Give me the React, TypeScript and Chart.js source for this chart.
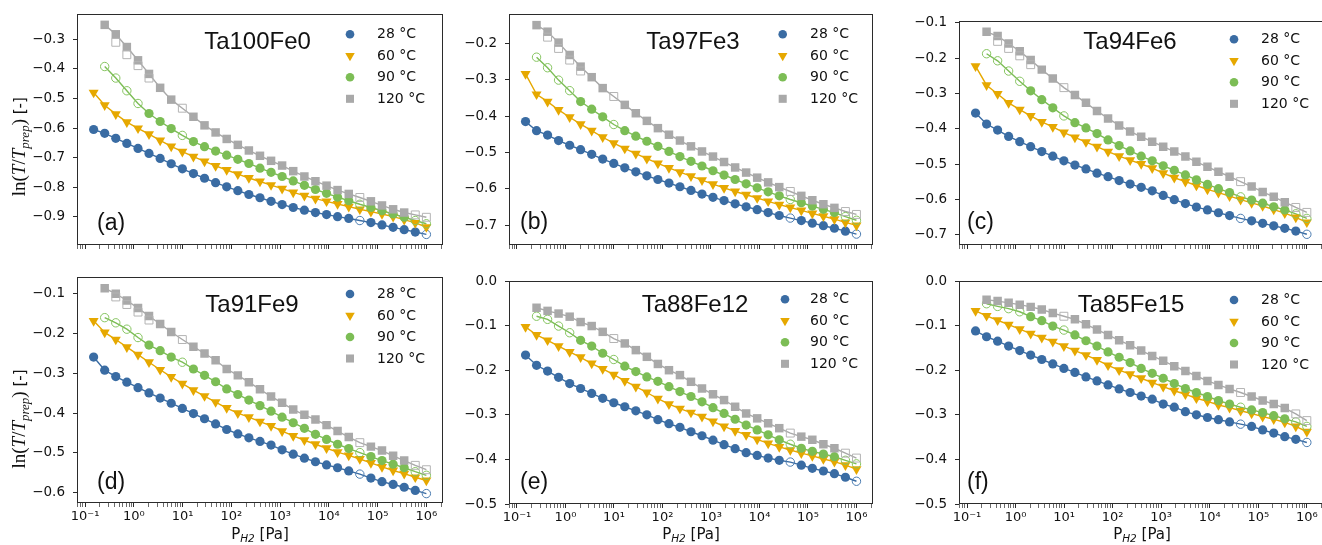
import React, { useEffect, useRef } from 'react';
import { Chart, registerables } from 'chart.js';
import { drawPoint } from 'chart.js/helpers';

Chart.register(...registerables);

// ---------------- data ----------------
const PRESSURE_PA = [0.15, 0.253, 0.427, 0.72, 1.22, 2.05, 3.47, 5.85, 9.9, 16.7, 28.2, 47.6, 80.4, 136, 229, 387, 653, 1100, 1860, 3150, 5310, 8970, 15100, 25600, 43200, 72900, 123000, 208000, 351000, 592000, 1000000];
const TEMP_LABELS = ['28 °C', '60 °C', '90 °C', '120 °C'];
const X_MAJOR_VALUES = [0.1, 1, 10, 100, 1000, 10000, 100000, 1000000];
const X_MAJOR_LABELS = ['10⁻¹', '10⁰', '10¹', '10²', '10³', '10⁴', '10⁵', '10⁶'];
const HOLLOW_INDEX = [[24, 30], [], [1, 2, 3, 4, 8, 24, 29, 30], [8, 24, 29, 30]];
const DUP_120_INDEX = [2, 3, 4, 5];

const A28 = [-0.605, -0.618, -0.635, -0.652, -0.669, -0.686, -0.703, -0.721, -0.738, -0.754, -0.770, -0.785, -0.799, -0.812, -0.825, -0.836, -0.848, -0.859, -0.869, -0.878, -0.886, -0.893, -0.900, -0.906, -0.913, -0.920, -0.928, -0.936, -0.944, -0.952, -0.960];
const A60 = [-0.480, -0.523, -0.553, -0.580, -0.601, -0.621, -0.642, -0.662, -0.680, -0.697, -0.713, -0.728, -0.742, -0.756, -0.769, -0.781, -0.793, -0.805, -0.818, -0.829, -0.839, -0.848, -0.857, -0.866, -0.875, -0.883, -0.891, -0.900, -0.910, -0.921, -0.935];
const A90 = [null, -0.392, -0.431, -0.474, -0.517, -0.551, -0.578, -0.602, -0.625, -0.646, -0.663, -0.678, -0.692, -0.706, -0.720, -0.736, -0.750, -0.764, -0.779, -0.794, -0.808, -0.821, -0.834, -0.846, -0.858, -0.869, -0.880, -0.891, -0.902, -0.913, -0.924];
const A120 = [null, -0.251, -0.283, -0.326, -0.371, -0.417, -0.464, -0.504, -0.533, -0.562, -0.591, -0.615, -0.637, -0.657, -0.676, -0.694, -0.711, -0.727, -0.746, -0.764, -0.780, -0.795, -0.810, -0.823, -0.835, -0.848, -0.862, -0.875, -0.886, -0.894, -0.902];
const A120_DUP = [-0.310, -0.352, -0.389, -0.431];

const B28 = [-0.415, -0.440, -0.452, -0.467, -0.480, -0.492, -0.505, -0.518, -0.530, -0.542, -0.553, -0.564, -0.574, -0.584, -0.594, -0.604, -0.614, -0.623, -0.632, -0.641, -0.649, -0.657, -0.665, -0.673, -0.680, -0.687, -0.694, -0.701, -0.708, -0.716, -0.724];
const B60 = [-0.284, -0.340, -0.360, -0.383, -0.403, -0.422, -0.440, -0.458, -0.474, -0.489, -0.503, -0.517, -0.530, -0.542, -0.554, -0.565, -0.576, -0.587, -0.597, -0.607, -0.616, -0.625, -0.634, -0.643, -0.651, -0.659, -0.667, -0.675, -0.683, -0.692, -0.700];
const B90 = [null, -0.238, -0.267, -0.301, -0.330, -0.360, -0.381, -0.402, -0.423, -0.440, -0.455, -0.469, -0.483, -0.497, -0.511, -0.524, -0.537, -0.550, -0.562, -0.574, -0.586, -0.597, -0.608, -0.619, -0.629, -0.638, -0.647, -0.656, -0.665, -0.676, -0.686];
const B120 = [null, -0.150, -0.168, -0.198, -0.232, -0.264, -0.293, -0.323, -0.346, -0.369, -0.392, -0.413, -0.433, -0.451, -0.467, -0.483, -0.497, -0.511, -0.526, -0.541, -0.555, -0.569, -0.582, -0.595, -0.607, -0.619, -0.631, -0.642, -0.652, -0.662, -0.670];
const B120_DUP = [-0.183, -0.214, -0.246, -0.276];

const C28 = [-0.355, -0.386, -0.403, -0.421, -0.436, -0.450, -0.464, -0.477, -0.490, -0.502, -0.513, -0.525, -0.535, -0.546, -0.556, -0.565, -0.575, -0.588, -0.600, -0.611, -0.621, -0.629, -0.637, -0.645, -0.653, -0.660, -0.667, -0.674, -0.681, -0.689, -0.698];
const C60 = [-0.222, -0.276, -0.301, -0.326, -0.345, -0.363, -0.380, -0.394, -0.410, -0.424, -0.437, -0.450, -0.464, -0.477, -0.488, -0.499, -0.511, -0.525, -0.538, -0.549, -0.560, -0.571, -0.580, -0.590, -0.600, -0.609, -0.618, -0.628, -0.638, -0.650, -0.664];
const C90 = [null, -0.187, -0.207, -0.236, -0.265, -0.292, -0.317, -0.340, -0.363, -0.382, -0.397, -0.413, -0.431, -0.447, -0.462, -0.477, -0.490, -0.504, -0.517, -0.530, -0.544, -0.557, -0.569, -0.580, -0.592, -0.601, -0.610, -0.620, -0.629, -0.640, -0.653];
const C120 = [null, -0.125, -0.137, -0.158, -0.180, -0.205, -0.232, -0.257, -0.283, -0.304, -0.326, -0.349, -0.370, -0.390, -0.407, -0.422, -0.436, -0.450, -0.464, -0.478, -0.493, -0.507, -0.521, -0.535, -0.549, -0.563, -0.578, -0.592, -0.607, -0.622, -0.636];
const C120_DUP = [-0.152, -0.172, -0.193, -0.218];

const D28 = [-0.259, -0.292, -0.308, -0.322, -0.336, -0.349, -0.362, -0.375, -0.388, -0.401, -0.414, -0.427, -0.441, -0.452, -0.462, -0.471, -0.480, -0.492, -0.503, -0.513, -0.522, -0.530, -0.537, -0.545, -0.553, -0.563, -0.572, -0.579, -0.586, -0.594, -0.602];
const D60 = [-0.168, -0.197, -0.215, -0.234, -0.253, -0.272, -0.291, -0.309, -0.326, -0.342, -0.357, -0.372, -0.387, -0.400, -0.410, -0.421, -0.432, -0.445, -0.457, -0.468, -0.478, -0.488, -0.498, -0.506, -0.515, -0.525, -0.535, -0.544, -0.552, -0.561, -0.569];
const D90 = [null, -0.160, -0.173, -0.189, -0.210, -0.229, -0.243, -0.259, -0.272, -0.289, -0.305, -0.321, -0.339, -0.353, -0.367, -0.381, -0.395, -0.410, -0.424, -0.438, -0.453, -0.466, -0.478, -0.489, -0.499, -0.509, -0.519, -0.528, -0.537, -0.547, -0.556];
const D120 = [null, -0.086, -0.100, -0.117, -0.136, -0.156, -0.176, -0.196, -0.215, -0.233, -0.250, -0.267, -0.289, -0.305, -0.322, -0.340, -0.358, -0.374, -0.391, -0.404, -0.416, -0.430, -0.445, -0.460, -0.474, -0.484, -0.494, -0.507, -0.519, -0.531, -0.542];
const D120_DUP = [-0.108, -0.127, -0.146, -0.166];

const E28 = [-0.166, -0.189, -0.202, -0.216, -0.230, -0.241, -0.252, -0.263, -0.273, -0.282, -0.291, -0.300, -0.311, -0.320, -0.328, -0.338, -0.347, -0.357, -0.367, -0.376, -0.385, -0.391, -0.397, -0.402, -0.406, -0.413, -0.420, -0.426, -0.432, -0.440, -0.449];
const E60 = [-0.103, -0.121, -0.133, -0.146, -0.159, -0.171, -0.185, -0.197, -0.210, -0.224, -0.237, -0.250, -0.264, -0.276, -0.286, -0.295, -0.304, -0.315, -0.326, -0.336, -0.345, -0.355, -0.364, -0.372, -0.379, -0.386, -0.392, -0.399, -0.405, -0.413, -0.422];
const E90 = [null, -0.079, -0.086, -0.101, -0.116, -0.133, -0.146, -0.162, -0.176, -0.191, -0.203, -0.215, -0.225, -0.237, -0.248, -0.259, -0.271, -0.284, -0.297, -0.310, -0.323, -0.334, -0.345, -0.356, -0.366, -0.375, -0.382, -0.388, -0.394, -0.402, -0.410];
const E120 = [null, -0.060, -0.067, -0.073, -0.080, -0.092, -0.101, -0.114, -0.129, -0.140, -0.155, -0.170, -0.186, -0.200, -0.211, -0.226, -0.241, -0.254, -0.267, -0.282, -0.297, -0.308, -0.319, -0.330, -0.341, -0.349, -0.356, -0.366, -0.375, -0.386, -0.397];

const F28 = [-0.112, -0.125, -0.135, -0.146, -0.156, -0.166, -0.176, -0.186, -0.196, -0.205, -0.215, -0.224, -0.233, -0.242, -0.250, -0.258, -0.265, -0.276, -0.283, -0.293, -0.300, -0.306, -0.311, -0.316, -0.321, -0.326, -0.334, -0.341, -0.349, -0.355, -0.362];
const F60 = [-0.067, -0.078, -0.088, -0.098, -0.108, -0.118, -0.127, -0.136, -0.146, -0.156, -0.166, -0.177, -0.189, -0.200, -0.209, -0.218, -0.228, -0.237, -0.246, -0.254, -0.263, -0.270, -0.278, -0.284, -0.291, -0.297, -0.304, -0.310, -0.317, -0.326, -0.338];
const F90 = [null, -0.051, -0.057, -0.062, -0.069, -0.080, -0.089, -0.101, -0.110, -0.121, -0.134, -0.146, -0.159, -0.171, -0.183, -0.196, -0.207, -0.218, -0.230, -0.241, -0.250, -0.259, -0.268, -0.276, -0.283, -0.289, -0.295, -0.302, -0.309, -0.316, -0.326];
const F120 = [null, -0.042, -0.045, -0.049, -0.053, -0.058, -0.064, -0.072, -0.079, -0.086, -0.097, -0.109, -0.121, -0.133, -0.144, -0.156, -0.168, -0.179, -0.191, -0.202, -0.213, -0.224, -0.233, -0.242, -0.250, -0.259, -0.268, -0.276, -0.285, -0.298, -0.313];

const PANEL_NAMES = ['Ta100Fe0', 'Ta97Fe3', 'Ta94Fe6', 'Ta91Fe9', 'Ta88Fe12', 'Ta85Fe15'];
const PANEL_TAGS = ['(a)', '(b)', '(c)', '(d)', '(e)', '(f)'];
const PANEL_SERIES = [[A28, A60, A90, A120], [B28, B60, B90, B120], [C28, C60, C90, C120], [D28, D60, D90, D120], [E28, E60, E90, E120], [F28, F60, F90, F120]];
const PANEL_DUPS = [A120_DUP, B120_DUP, C120_DUP, D120_DUP, null, null];
const Y_RANGES = [[-0.9958, -0.2143], [-0.754, -0.1194], [-0.7283, -0.0944], [-0.6256, -0.0569], [-0.5, 0], [-0.5, 0]];
const X_MIN = 0.0684;
const X_MAX = 2193000;

// ---------------- styles / layout ----------------
const COLORS = ['#3a6ca3', '#e6a800', '#7cbd55', '#a9a9a9'];
const HOLLOW_COLORS = ['#4a7bb0', '#e6a800', '#86c460', '#b4b4b4'];
const POINT_STYLES = ['circle', 'triangle', 'circle', 'rect'];
const POINT_ROT = [0, 180, 0, 0];
const POINT_R = [4.6, 5.8, 4.6, 6.0];

// absolute page coordinates
const LAYOUT = [
  { cv: [0, 0, 450, 270], area: [77, 14, 443, 245], title: [257.5, 48.5], tag: [97, 230], leg: [350, 34.3, 377], yTitle: [19, 146.7], xTitle: null },
  { cv: [450, 0, 430, 270], area: [509, 14, 873, 245], title: [693, 48.5], tag: [520, 229], leg: [782.7, 34.3, 810], yTitle: null, xTitle: null },
  { cv: [880, 0, 450, 270], area: [959, 21, 1325, 245], title: [1130, 49], tag: [967, 229], leg: [1234, 39.3, 1261], yTitle: null, xTitle: null },
  { cv: [0, 270, 450, 275], area: [77, 273, 443, 503], title: [252, 311.7], tag: [97, 488.5], leg: [350, 294, 377], yTitle: [19, 419], xTitle: [260, 538.5] },
  { cv: [450, 270, 430, 275], area: [509, 281, 873, 504], title: [695, 312], tag: [520, 489], leg: [785, 299.3, 810], yTitle: null, xTitle: [691, 539] },
  { cv: [880, 270, 450, 275], area: [959, 281, 1325, 504], title: [1131, 311.7], tag: [967, 489], leg: [1234, 300, 1261], yTitle: null, xTitle: [1142, 539] },
];

const SANS = '"DejaVu Sans", "Noto Sans", sans-serif';
const SERIF = '"Liberation Serif", "DejaVu Serif", serif';
const ARIAL = '"Liberation Sans", Arial, sans-serif';

function buildXTicks() {
  const ticks: { value: number; major: boolean }[] = [];
  for (let e = -2; e <= 6; e++) {
    for (let m = 1; m <= 9; m++) {
      const v = Number((m * Math.pow(10, e)).toPrecision(3));
      if (v > X_MIN && v < X_MAX) ticks.push({ value: v, major: m === 1 });
    }
  }
  return ticks;
}

function drawParts(ctx: CanvasRenderingContext2D, parts: { t: string; f: string; dy: number }[], startX: number, baseY: number) {
  let x = startX;
  for (const p of parts) {
    ctx.font = p.f;
    ctx.fillText(p.t, x, baseY + p.dy);
    x += ctx.measureText(p.t).width;
  }
}
function partsWidth(ctx: CanvasRenderingContext2D, parts: { t: string; f: string; dy: number }[]) {
  let w = 0;
  for (const p of parts) { ctx.font = p.f; w += ctx.measureText(p.t).width; }
  return w;
}

function makeDecor(idx: number) {
  const L = LAYOUT[idx];
  const ox = L.cv[0];
  const oy = L.cv[1];
  return {
    id: 'decor' + idx,
    afterDraw(chart: any) {
      const ctx: CanvasRenderingContext2D = chart.ctx;
      const a = chart.chartArea;
      ctx.save();
      // frame
      ctx.strokeStyle = '#2b2b2b';
      ctx.lineWidth = 1;
      ctx.strokeRect(Math.round(a.left) + 0.5, Math.round(a.top) + 0.5, Math.round(a.right - a.left) - 1, Math.round(a.bottom - a.top) - 1);
      ctx.fillStyle = '#111';
      // title
      ctx.font = '24px ' + ARIAL;
      ctx.textAlign = 'center';
      ctx.textBaseline = 'alphabetic';
      ctx.fillText(PANEL_NAMES[idx], L.title[0] - ox, L.title[1] - oy);
      // tag
      ctx.textAlign = 'left';
      ctx.font = '23px ' + ARIAL;
      ctx.fillText(PANEL_TAGS[idx], L.tag[0] - ox, L.tag[1] - oy);
      // legend
      for (let k = 0; k < 4; k++) {
        const y = L.leg[1] - oy + k * 21.5;
        ctx.fillStyle = COLORS[k];
        ctx.strokeStyle = COLORS[k];
        drawPoint(ctx, { pointStyle: POINT_STYLES[k], rotation: POINT_ROT[k], radius: POINT_R[k] - 0.3, borderWidth: 0 } as any, L.leg[0] - ox, y);
        ctx.fillStyle = '#111';
        ctx.font = '14px ' + SANS;
        ctx.textBaseline = 'middle';
        ctx.fillText(TEMP_LABELS[k], L.leg[2] - ox, y + 0.5);
      }
      ctx.textBaseline = 'alphabetic';
      // y title
      if (L.yTitle) {
        const parts = [
          { t: 'ln(', f: '19px ' + SERIF, dy: 0 },
          { t: 'T', f: 'italic 19px ' + SERIF, dy: 0 },
          { t: '/', f: '19px ' + SERIF, dy: 0 },
          { t: 'T', f: 'italic 19px ' + SERIF, dy: 0 },
          { t: 'prep', f: 'italic 13px ' + SERIF, dy: 4 },
          { t: ')', f: '19px ' + SERIF, dy: 0 },
          { t: ' [-]', f: '15px ' + SANS, dy: 0 },
        ];
        const w = partsWidth(ctx, parts);
        ctx.save();
        ctx.translate(L.yTitle[0] - ox, L.yTitle[1] - oy);
        ctx.rotate(-Math.PI / 2);
        ctx.fillStyle = '#111';
        drawParts(ctx, parts, -w / 2, 6);
        ctx.restore();
      }
      // x title
      if (L.xTitle) {
        const parts = [
          { t: 'P', f: '15px ' + SANS, dy: 0 },
          { t: 'H2', f: 'italic 10.5px ' + SANS, dy: 3 },
          { t: ' [Pa]', f: '15px ' + SANS, dy: 0 },
        ];
        const w = partsWidth(ctx, parts);
        ctx.fillStyle = '#111';
        drawParts(ctx, parts, L.xTitle[0] - ox - w / 2, L.xTitle[1] - oy);
      }
      ctx.restore();
    },
  };
}

function buildConfig(idx: number): any {
  const L = LAYOUT[idx];
  const [cx, cy, cw, ch] = L.cv;
  const [al, at, ar, ab] = L.area;
  const yWidth = al - cx;
  const xHeight = cy + ch - ab;
  const padTop = at - cy;
  const padRight = cx + cw - ar;
  const series = PANEL_SERIES[idx];
  const dup = PANEL_DUPS[idx];
  const showXLabels = idx >= 3;

  const markerSets: any[] = [];
  const lineSets: any[] = [];
  for (let k = 3; k >= 0; k--) {
    const main = series[k];
    const hollow = HOLLOW_INDEX[k];
    lineSets.push({
      label: TEMP_LABELS[k] + ' line',
      data: PRESSURE_PA.map((x, i) => ({ x, y: main[i] })),
      showLine: true,
      borderColor: COLORS[k],
      borderWidth: 1.4,
      pointRadius: 0,
      spanGaps: true,
      fill: false,
    });
    if (k === 3 && dup) {
      markerSets.push({
        label: TEMP_LABELS[k] + ' open2',
        data: DUP_120_INDEX.map((i, j) => ({ x: PRESSURE_PA[i], y: dup[j] })),
        showLine: false,
        pointStyle: POINT_STYLES[k],
        rotation: POINT_ROT[k],
        pointRadius: POINT_R[k] - 0.4,
        backgroundColor: 'rgba(255,255,255,0)',
        borderColor: HOLLOW_COLORS[k],
        borderWidth: 1,
      });
    }
    if (hollow.length) {
      markerSets.push({
        label: TEMP_LABELS[k] + ' open',
        data: PRESSURE_PA.map((x, i) => ({ x, y: hollow.includes(i) ? main[i] : null })),
        showLine: false,
        pointStyle: POINT_STYLES[k],
        rotation: POINT_ROT[k],
        pointRadius: POINT_R[k] - 0.4,
        backgroundColor: 'rgba(255,255,255,0)',
        borderColor: HOLLOW_COLORS[k],
        borderWidth: 1,
      });
    }
    markerSets.push({
      label: TEMP_LABELS[k],
      data: PRESSURE_PA.map((x, i) => ({ x, y: hollow.includes(i) ? null : main[i] })),
      showLine: false,
      pointStyle: POINT_STYLES[k],
      rotation: POINT_ROT[k],
      pointRadius: POINT_R[k],
      backgroundColor: COLORS[k],
      borderColor: COLORS[k],
      borderWidth: 0,
    });
  }
  const xTicks = buildXTicks();

  return {
    type: 'scatter',
    data: { datasets: [...markerSets, ...lineSets] },
    plugins: [makeDecor(idx)],
    options: {
      animation: false,
      responsive: false,
      maintainAspectRatio: false,
      events: [],
      layout: { padding: { left: 0, top: padTop, right: padRight, bottom: 0 } },
      plugins: { legend: { display: false }, title: { display: false }, tooltip: { enabled: false } },
      elements: { point: { hoverRadius: 0 } },
      scales: {
        x: {
          type: 'logarithmic',
          bounds: 'data',
          min: X_MIN,
          max: X_MAX,
          afterBuildTicks: (s: any) => { s.ticks = xTicks.map((t) => ({ ...t })); },
          afterFit: (s: any) => { s.height = xHeight; s.paddingLeft = 0; s.paddingRight = 0; },
          border: { display: false },
          grid: {
            display: true,
            drawOnChartArea: false,
            drawTicks: true,
            tickLength: 4,
            tickColor: '#2b2b2b',
            tickWidth: (c: any) => (c.tick && c.tick.major ? 1 : 0.7),
          },
          ticks: {
            autoSkip: false,
            maxRotation: 0,
            minRotation: 0,
            padding: 2,
            color: '#111',
            font: { family: SANS, size: 13 },
            callback: (value: number, index: number, ticks: any[]) => {
              if (!showXLabels) return '';
              const t = ticks[index];
              if (!t || !t.major) return '';
              const j = X_MAJOR_VALUES.findIndex((m) => Math.abs(Math.log10(value / m)) < 1e-6);
              return j >= 0 ? X_MAJOR_LABELS[j] : '';
            },
          },
        },
        y: {
          type: 'linear',
          bounds: 'ticks',
          min: Y_RANGES[idx][0],
          max: Y_RANGES[idx][1],
          afterFit: (s: any) => { s.width = yWidth; s.paddingTop = 0; s.paddingBottom = 0; },
          border: { display: false },
          grid: { display: true, drawOnChartArea: false, drawTicks: true, tickLength: 4, tickColor: '#2b2b2b', tickWidth: 1 },
          ticks: {
            stepSize: 0.1,
            includeBounds: false,
            padding: 8,
            color: '#111',
            font: { family: SANS, size: 13.5 },
            callback: (v: number) => (v < -1e-9 ? '−' : '') + Math.abs(v).toFixed(1),
          },
        },
      },
    },
  };
}

function Panel({ idx }: { idx: number }) {
  const ref = useRef<HTMLCanvasElement>(null);
  const [cx, cy, cw, ch] = LAYOUT[idx].cv;
  useEffect(() => {
    const chart = new Chart(ref.current as HTMLCanvasElement, buildConfig(idx));
    return () => chart.destroy();
  }, [idx]);
  return (
    <canvas
      ref={ref}
      width={cw}
      height={ch}
      style={{ position: 'absolute', left: cx, top: cy, width: cw, height: ch, display: 'block' }}
    />
  );
}

export default function App() {
  return (
    <div style={{ position: 'fixed', left: 0, top: 0, width: 1322, height: 545, overflow: 'hidden', background: '#ffffff' }}>
      {LAYOUT.map((_, i) => (
        <Panel key={i} idx={i} />
      ))}
    </div>
  );
}
